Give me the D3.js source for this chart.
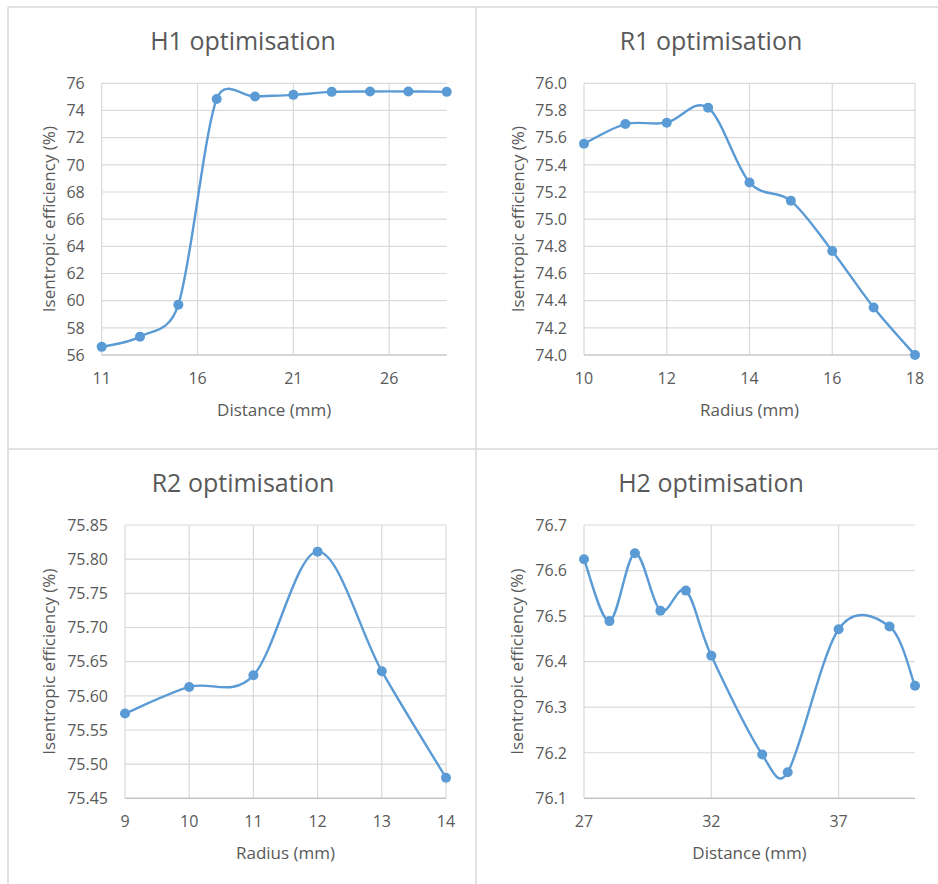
<!DOCTYPE html>
<html>
<head>
<meta charset="utf-8">
<script src="https://cdn.jsdelivr.net/npm/d3@7"></script>
<style>
  html, body { margin: 0; padding: 0; background: #fff; }
  svg { display: block; }
  text { font-family: "Open Sans", "Noto Sans", sans-serif; fill: #595959; }
</style>
</head>
<body>
<svg id="chart" width="938" height="884"></svg>
<script>
// ---------- data ----------
const h1Distance = [11, 13, 15, 17, 19, 21, 23, 25, 27, 29];
const h1Efficiency = [56.6, 57.35, 59.7, 74.85, 75.03, 75.15, 75.37, 75.4, 75.4, 75.37];
const h1XTicks = [11, 16, 21, 26];
const h1YTicks = [56, 58, 60, 62, 64, 66, 68, 70, 72, 74, 76];

const r1Radius = [10, 11, 12, 13, 14, 15, 16, 17, 18];
const r1Efficiency = [75.555, 75.70, 75.71, 75.82, 75.27, 75.135, 74.765, 74.35, 74.0];
const r1XTicks = [10, 12, 14, 16, 18];
const r1YTicks = [74.0, 74.2, 74.4, 74.6, 74.8, 75.0, 75.2, 75.4, 75.6, 75.8, 76.0];

const r2Radius = [9, 10, 11, 12, 13, 14];
const r2Efficiency = [75.574, 75.613, 75.630, 75.811, 75.636, 75.480];
const r2XTicks = [9, 10, 11, 12, 13, 14];
const r2YTicks = [75.45, 75.50, 75.55, 75.60, 75.65, 75.70, 75.75, 75.80, 75.85];

const h2Distance = [27, 28, 29, 30, 31, 32, 34, 35, 37, 39, 40];
const h2Efficiency = [76.625, 76.489, 76.638, 76.512, 76.556, 76.413, 76.196, 76.157, 76.471, 76.477, 76.347];
const h2XTicks = [27, 32, 37];
const h2YTicks = [76.1, 76.2, 76.3, 76.4, 76.5, 76.6, 76.7];

const titles = ["H1 optimisation", "R1 optimisation", "R2 optimisation", "H2 optimisation"];
const xTitles = ["Distance (mm)", "Radius (mm)", "Radius (mm)", "Distance (mm)"];
const yTitle = "Isentropic efficiency (%)";

// ---------- smoothed curve (spreadsheet-style Catmull-Rom with limited arms) ----------
function smoothCurve(context) {
  return {
    areaStart() {}, areaEnd() {},
    lineStart() { this._p = []; },
    point(x, y) { this._p.push([+x, +y]); },
    lineEnd() {
      const p = this._p, n = p.length;
      if (!n) return;
      context.moveTo(p[0][0], p[0][1]);
      if (n === 1) return;
      const K = 0.6;
      const arm = (a, b, chord) => {
        let dx = (b[0] - a[0]) / 6, dy = (b[1] - a[1]) / 6;
        const len = Math.hypot(dx, dy), lim = K * chord;
        if (len > lim && len > 0) { dx *= lim / len; dy *= lim / len; }
        return [dx, dy];
      };
      for (let i = 0; i < n - 1; i++) {
        const p0 = p[i - 1] || p[i], p1 = p[i], p2 = p[i + 1], p3 = p[i + 2] || p[i + 1];
        const chord = Math.hypot(p2[0] - p1[0], p2[1] - p1[1]);
        const a1 = arm(p0, p2, chord), a2 = arm(p1, p3, chord);
        context.bezierCurveTo(p1[0] + a1[0], p1[1] + a1[1], p2[0] - a2[0], p2[1] - a2[1], p2[0], p2[1]);
      }
    }
  };
}

// ---------- layout ----------
const svg = d3.select("#chart");
const LINE = "#5B9BD5";
const GRID = "#D9D9D9";

const borders = [
  [8, 7, 938, 7], [8, 7, 8, 884], [476, 7, 476, 884], [8, 449, 938, 449]
];
svg.selectAll("line.border").data(borders).enter().append("line")
  .attr("class", "border")
  .attr("x1", d => d[0]).attr("y1", d => d[1]).attr("x2", d => d[2]).attr("y2", d => d[3])
  .attr("stroke", GRID).attr("stroke-width", 1.5);

const panels = [
  { xs: h1Distance, ys: h1Efficiency, xDom: [11, 29], yDom: [56, 76], xT: h1XTicks, yT: h1YTicks, fmt: d3.format("d"),
    rect: { l: 101.7, r: 446.7, t: 83.3, b: 355 }, tx: 243, ty: 50, yTitleX: 55 },
  { xs: r1Radius, ys: r1Efficiency, xDom: [10, 18], yDom: [74, 76], xT: r1XTicks, yT: r1YTicks, fmt: d3.format(".1f"),
    rect: { l: 584, r: 915, t: 83.3, b: 355 }, tx: 711, ty: 50, yTitleX: 523.5 },
  { xs: r2Radius, ys: r2Efficiency, xDom: [9, 14], yDom: [75.45, 75.85], xT: r2XTicks, yT: r2YTicks, fmt: d3.format(".2f"),
    rect: { l: 125, r: 446, t: 525, b: 798.3 }, tx: 243, ty: 492, yTitleX: 55 },
  { xs: h2Distance, ys: h2Efficiency, xDom: [27, 40], yDom: [76.1, 76.7], xT: h2XTicks, yT: h2YTicks, fmt: d3.format(".1f"),
    rect: { l: 584, r: 915, t: 525, b: 798.3 }, tx: 711, ty: 492, yTitleX: 523 }
];

panels.forEach((p, i) => {
  const g = svg.append("g");
  const R = p.rect;
  const x = d3.scaleLinear().domain(p.xDom).range([R.l, R.r]);
  const y = d3.scaleLinear().domain(p.yDom).range([R.b, R.t]);

  g.selectAll("line.hg").data(p.yT).enter().append("line")
    .attr("x1", R.l).attr("x2", R.r)
    .attr("y1", d => y(d)).attr("y2", d => y(d))
    .attr("stroke", GRID).attr("stroke-width", 1.2);
  g.selectAll("line.vg").data(p.xT).enter().append("line")
    .attr("x1", d => x(d)).attr("x2", d => x(d))
    .attr("y1", R.t).attr("y2", R.b)
    .attr("stroke", GRID).attr("stroke-width", 1.2);
  g.append("line").attr("x1", R.l).attr("x2", R.r).attr("y1", R.b).attr("y2", R.b)
    .attr("stroke", "#BFBFBF").attr("stroke-width", 1.2);

  g.selectAll("text.yt").data(p.yT).enter().append("text")
    .attr("x", R.l - 17).attr("y", d => y(d)).attr("dy", "0.36em")
    .attr("text-anchor", "end").style("font-size", "16px")
    .text(d => p.fmt(d));
  g.selectAll("text.xt").data(p.xT).enter().append("text")
    .attr("x", d => x(d)).attr("y", R.b + 28.5)
    .attr("text-anchor", "middle").style("font-size", "16px")
    .text(d => d);

  g.append("text").attr("x", p.tx).attr("y", p.ty).attr("text-anchor", "middle")
    .style("font-size", "25px").text(titles[i]);
  g.append("text").attr("x", (R.l + R.r) / 2).attr("y", R.b + 61).attr("text-anchor", "middle")
    .style("font-size", "17px").text(xTitles[i]);
  g.append("text")
    .attr("transform", `translate(${p.yTitleX},${(R.t + R.b) / 2}) rotate(-90)`)
    .attr("text-anchor", "middle").style("font-size", "17px").text(yTitle);

  const pts = p.xs.map((v, k) => [v, p.ys[k]]);
  const line = d3.line().x(d => x(d[0])).y(d => y(d[1])).curve(smoothCurve);
  g.append("path").datum(pts).attr("d", line)
    .attr("fill", "none").attr("stroke", LINE).attr("stroke-width", 2.4)
    .attr("stroke-linejoin", "round").attr("stroke-linecap", "round");
  g.selectAll("circle").data(pts).enter().append("circle")
    .attr("cx", d => x(d[0])).attr("cy", d => y(d[1])).attr("r", 5)
    .attr("fill", LINE);
});
</script>
</body>
</html>
